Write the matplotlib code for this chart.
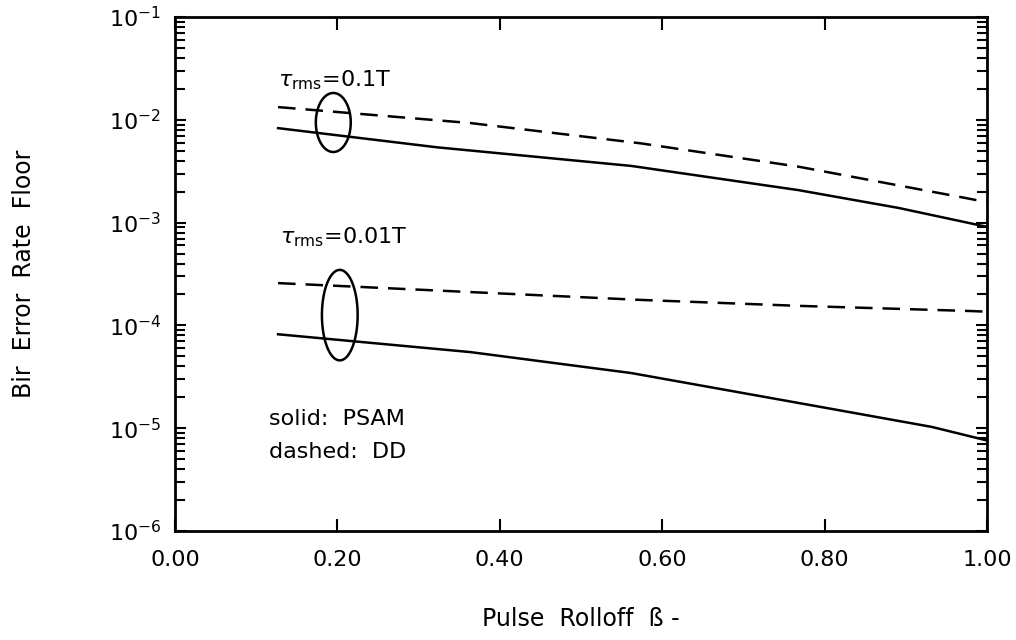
import matplotlib
matplotlib.use("Agg")
import matplotlib.pyplot as plt
from matplotlib.patches import Polygon
import numpy as np

# curves (beta vs bit error rate floor)
beta_hi_psam = [0.127, 0.323, 0.562, 0.768, 0.891, 1.0]
ber_hi_psam = [8.3e-3, 5.4e-3, 3.56e-3, 2.07e-3, 1.39e-3, 9.1e-4]
beta_hi_dd = [0.127, 0.364, 0.574, 0.768, 0.973, 1.0]
ber_hi_dd = [1.33e-2, 9.3e-3, 5.9e-3, 3.5e-3, 1.74e-3, 1.58e-3]
beta_lo_dd = [0.127, 0.364, 0.574, 0.768, 0.98, 1.0]
ber_lo_dd = [2.58e-4, 2.11e-4, 1.77e-4, 1.55e-4, 1.38e-4, 1.36e-4]
beta_lo_psam = [0.127, 0.364, 0.562, 0.768, 0.932, 1.0]
ber_lo_psam = [8.2e-5, 5.5e-5, 3.44e-5, 1.76e-5, 1.03e-5, 7.6e-6]

xticks = [0.0, 0.2, 0.4, 0.6, 0.8, 1.0]
xticklabels = ['0.00', '0.20', '0.40', '0.60', '0.80', '1.00']

plt.rcParams['font.family'] = ['DejaVu Sans']
plt.rcParams['mathtext.fontset'] = 'dejavusans'

fig = plt.figure(figsize=(10.16, 6.4), dpi=100)
ax = fig.add_axes([0.1722, 0.1703, 0.7992, 0.8031])

lw = 1.8
ax.plot(beta_hi_psam, ber_hi_psam, color='black', lw=lw)
ax.plot(beta_hi_dd, ber_hi_dd, color='black', lw=lw, linestyle=(0, (7, 4)))
ax.plot(beta_lo_dd, ber_lo_dd, color='black', lw=lw, linestyle=(0, (7, 4)))
ax.plot(beta_lo_psam, ber_lo_psam, color='black', lw=lw)

# ellipses grouping each pair (drawn in log space so they look round)
t = np.linspace(0, 2 * np.pi, 300, endpoint=False)
for cx, rx, cy, ry in [(0.195, 0.0215, -2.026, 0.287), (0.203, 0.022, -3.90, 0.44)]:
    pts = np.column_stack([cx + rx * np.cos(t), 10 ** (cy + ry * np.sin(t))])
    ax.add_patch(Polygon(pts, closed=True, fill=False, edgecolor='black', lw=lw))

ax.set_yscale('log')
ax.set_xlim(0, 1)
ax.set_ylim(1e-6, 1e-1)
ax.set_xticks(xticks)
ax.set_xticklabels(xticklabels)
ax.tick_params(axis='both', which='both', direction='in', top=True, right=True,
               labelsize=16, width=1.5)
ax.tick_params(axis='x', which='major', length=9, pad=14)
ax.tick_params(axis='y', which='major', length=8, pad=10)
ax.tick_params(axis='y', which='minor', length=7)
ax.tick_params(axis='x', which='minor', bottom=False, top=False)
for s in ax.spines.values():
    s.set_linewidth(2)

ax.text(0.127, 10 ** -1.61, r'$\tau_{\mathrm{rms}}$=0.1T', fontsize=16, va='center')
ax.text(0.129, 10 ** -3.14, r'$\tau_{\mathrm{rms}}$=0.01T', fontsize=16, va='center')
ax.text(0.116, 10 ** -4.91, 'solid:  PSAM', fontsize=16, va='center')
ax.text(0.116, 10 ** -5.23, 'dashed:  DD', fontsize=16, va='center')

ax.set_xlabel('Pulse  Rolloff  ß -', fontsize=17, labelpad=26)
ax.set_ylabel('Bir  Error  Rate  Floor', fontsize=17, labelpad=52)

fig.savefig('out.png', dpi=100)
